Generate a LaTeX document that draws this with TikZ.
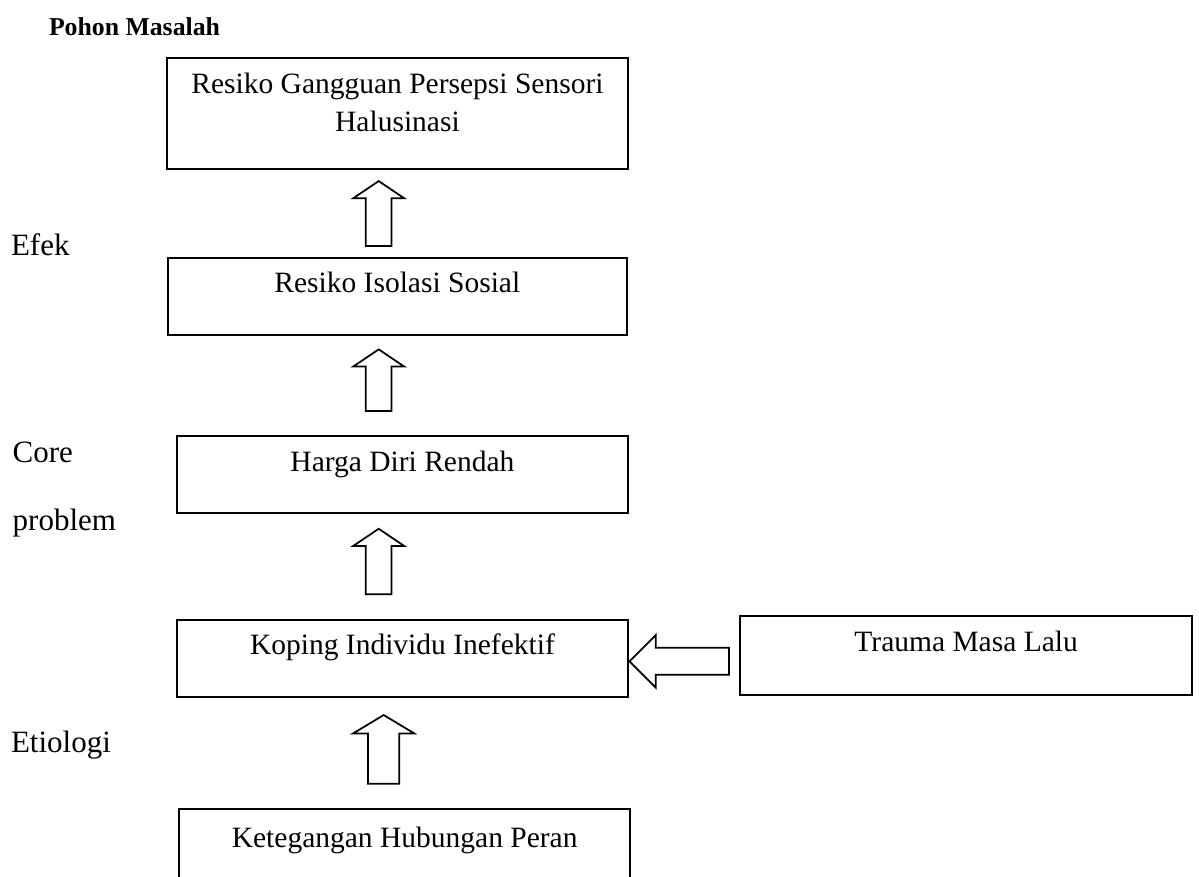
\documentclass[tikz,border=0pt]{standalone}
\usepackage{fontspec}
\setmainfont{Liberation Serif}
\usetikzlibrary{shapes.arrows}
\begin{document}
\begin{tikzpicture}[x=0.4pt,y=-0.4pt,line width=0.8pt,
  kotak/.style={draw,anchor=north west,inner sep=0pt,font=\fontsize{11.8}{15.2}\selectfont},
  panah/.style={draw,line width=0.7pt,single arrow,anchor=tip,inner xsep=0pt,inner ysep=4.8pt,
    single arrow head extend=5pt,single arrow tip angle=112,minimum height=#1},
  ket/.style={anchor=base west,inner sep=0pt,font=\fontsize{12.4}{14}\selectfont}]
\clip (0,0) rectangle (1199,876);
\node[anchor=base west,inner sep=0pt,font=\fontsize{10.3}{12}\selectfont\bfseries] (judul) at (48,35) {Pohon Masalah};
\node[kotak,minimum width=184.6pt,text height=14.5pt,text depth=29.9pt] (halu) at (165.7,56.7)
  {\begin{tabular}[t]{@{}c@{}}Resiko Gangguan Persepsi Sensori\\Halusinasi\end{tabular}};
\node[kotak,minimum width=183.7pt,text height=13.5pt,text depth=17.2pt] (isolasi) at (166.7,257.3) {Resiko Isolasi Sosial};
\node[kotak,minimum width=180.6pt,text height=14pt,text depth=16.7pt] (hdr) at (175.7,435) {Harga Diri Rendah};
\node[kotak,minimum width=180.6pt,text height=13.6pt,text depth=17.1pt] (koping) at (175.7,619.3) {Koping Individu Inefektif};
\node[kotak,minimum width=180.9pt,text height=14.3pt,text depth=17.4pt] (trauma) at (739,615) {Trauma Masa Lalu};
\node[kotak,minimum width=180.3pt,text height=15.6pt,text depth=30pt] (peran) at (178.3,807.7) {Ketegangan Hubungan Peran};
\node[panah=26pt,rotate=90] (p1) at (378.7,180) {};
\node[panah=24.7pt,rotate=90] (p2) at (378.7,348.3) {};
\node[panah=26.2pt,rotate=90] (p3) at (378.7,527.7) {};
\node[panah=27.5pt,rotate=90,inner ysep=5.9pt,single arrow head extend=6pt,single arrow tip angle=118] (p4) at (383.7,714) {};
\node[panah=39.8pt,rotate=180,inner ysep=5.06pt,single arrow head extend=5.08pt,single arrow tip angle=90] (p5) at (628.3,661.3) {};
\node[ket] (efek) at (10,255) {Efek};
\node[ket] (core) at (11.7,462.7) {Core};
\node[ket] (problem) at (11.7,530) {problem};
\node[ket] (etiologi) at (10,752) {Etiologi};
\end{tikzpicture}
\end{document}
